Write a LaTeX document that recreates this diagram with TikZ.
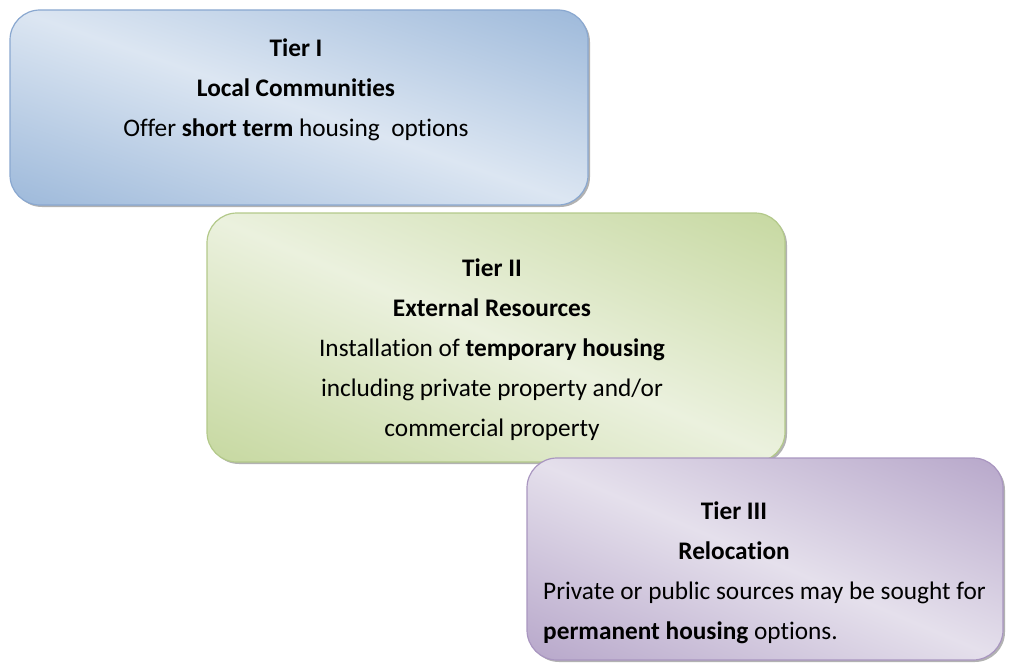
\documentclass[tikz,border=0pt]{standalone}
\usepackage{fontspec}
\setmainfont{Carlito}[Ligatures={NoCommon}]
\usetikzlibrary{shadows}

\definecolor{bluedark}{HTML}{95B3D7}
\definecolor{bluelight}{HTML}{DCE6F2}
\definecolor{blueline}{HTML}{8AA8D0}
\definecolor{greendark}{HTML}{C3D69B}
\definecolor{greenlight}{HTML}{EBF1DE}
\definecolor{greenline}{HTML}{B3C98A}
\definecolor{purpledark}{HTML}{B3A2C7}
\definecolor{purplelight}{HTML}{E5E0EC}
\definecolor{purpleline}{HTML}{A996C0}

\pgfdeclareverticalshading{bluetier}{100bp}{color(0bp)=(bluedark); color(14bp)=(bluedark); color(50bp)=(bluelight); color(86bp)=(bluedark); color(100bp)=(bluedark)}
\pgfdeclareverticalshading{greentier}{100bp}{color(0bp)=(greendark); color(14bp)=(greendark); color(50bp)=(greenlight); color(86bp)=(greendark); color(100bp)=(greendark)}
\pgfdeclareverticalshading{purpletier}{100bp}{color(0bp)=(purpledark); color(14bp)=(purpledark); color(50bp)=(purplelight); color(86bp)=(purpledark); color(100bp)=(purpledark)}

\tikzset{
  tierbox/.style={rectangle, rounded corners=30pt, line width=1.2pt,
    draw=#1line, shade, shading=#1tier,
    drop shadow={shadow xshift=2pt, shadow yshift=-2pt, fill=black, opacity=0.3}},
  tiertext/.style={font=\fontsize{25.3}{40}\selectfont, inner sep=0pt}
}

\begin{document}
\begin{tikzpicture}[x=1pt,y=-1pt]
   \useasboundingbox (0,0) rectangle (1010,669);
   % the three tiers
   \node[tierbox=blue, shading angle=-19, minimum width=578pt, minimum height=195pt] (tierone) at (299,107.5) {};
   \node[tierbox=green, shading angle=-23, minimum width=578pt, minimum height=249pt] (tiertwo) at (496,337.5) {};
   \node[tierbox=purple, shading angle=-23, minimum width=476pt, minimum height=202pt] (tierthree) at (765,559) {};
   % texts
   \node[tiertext, align=center] (onetext) at (296,90)
      {\textbf{Tier I}\\ \textbf{Local Communities}\\ Offer \textbf{short term} housing\ \ options};
   \node[tiertext, align=center] (twotext) at (492,350)
      {\textbf{Tier II}\\ \textbf{External Resources}\\ Installation of \textbf{temporary housing}\\
       including private property and/or\\ commercial property};
   \node[tiertext, align=center] (threehead) at (734,531)
      {\textbf{Tier III}\\ \textbf{Relocation}};
   \node[tiertext, align=left, anchor=west] (threetext) at (543,613)
      {Private or public sources may be sought for\\ \textbf{permanent housing} options.};
\end{tikzpicture}
\end{document}
